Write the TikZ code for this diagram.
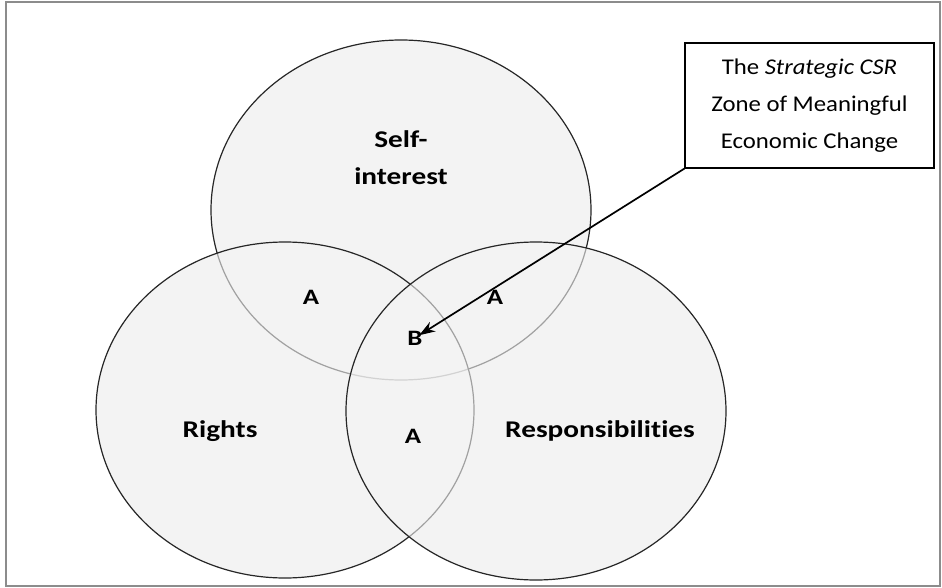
\documentclass[tikz,border=0pt]{standalone}
\usepackage{fontspec}
\setmainfont{Carlito}
\newfontfamily\lblfont{Carlito}[FakeStretch=1.22,Ligatures=NoCommon]
\newfontfamily\boxfont{Carlito}[FakeStretch=1.1,Ligatures=NoCommon]
\usetikzlibrary{arrows.meta}
\definecolor{vennfill}{HTML}{F3F3F3}
\begin{document}
\begin{tikzpicture}[x=1pt,y=-1pt,
  venn/.style={draw=black!85,line width=1.2pt,fill=vennfill,fill opacity=0.6},
  lbl/.style={font=\lblfont\bfseries\fontsize{24}{37}\selectfont,text=black,anchor=base},
  zone/.style={font=\lblfont\bfseries\fontsize{22}{26}\selectfont,text=black,anchor=base},
  infobox/.style={draw=black,line width=1.2pt,fill=white,minimum width=249pt,minimum height=125pt,align=center,font=\boxfont\fontsize{22.5}{37}\selectfont},
  pointer/.style={-{Stealth[length=16pt,width=11pt]},line width=1.7pt,shorten >=5pt}]
\useasboundingbox (0,0) rectangle (942,588);
\draw[draw=black!45,line width=1.5pt] (6,2) rectangle (940,586);
% opaque base
\fill[vennfill] (401,210) ellipse [x radius=190,y radius=170];
\fill[vennfill] (285,410) ellipse [x radius=189,y radius=168];
\fill[vennfill] (536,411) ellipse [x radius=190,y radius=169];
% outlines in order, each veiling the ones below
\draw[venn] (401,210) ellipse [x radius=190,y radius=170];
\draw[venn] (285,410) ellipse [x radius=189,y radius=168];
\draw[venn] (536,411) ellipse [x radius=190,y radius=169];
\node[lbl,align=center,anchor=center] (self) at (401,158) {Self-\\interest};
\node[lbl] (rights) at (220,437) {Rights};
\node[lbl] (resp) at (600,437) {Responsibilities};
\node[zone] (a1) at (311,304) {A};
\node[zone] (a2) at (495,304) {A};
\node[zone] (a3) at (413,443) {A};
\node[zone] (b) at (415,345) {B};
\node[infobox] (box) at (809.5,105.5) {\rule{0pt}{6pt}The \textit{Strategic CSR}\\Zone of Meaningful\\Economic Change};
\draw[pointer] (box.south west) -- (b.center);
\end{tikzpicture}
\end{document}
